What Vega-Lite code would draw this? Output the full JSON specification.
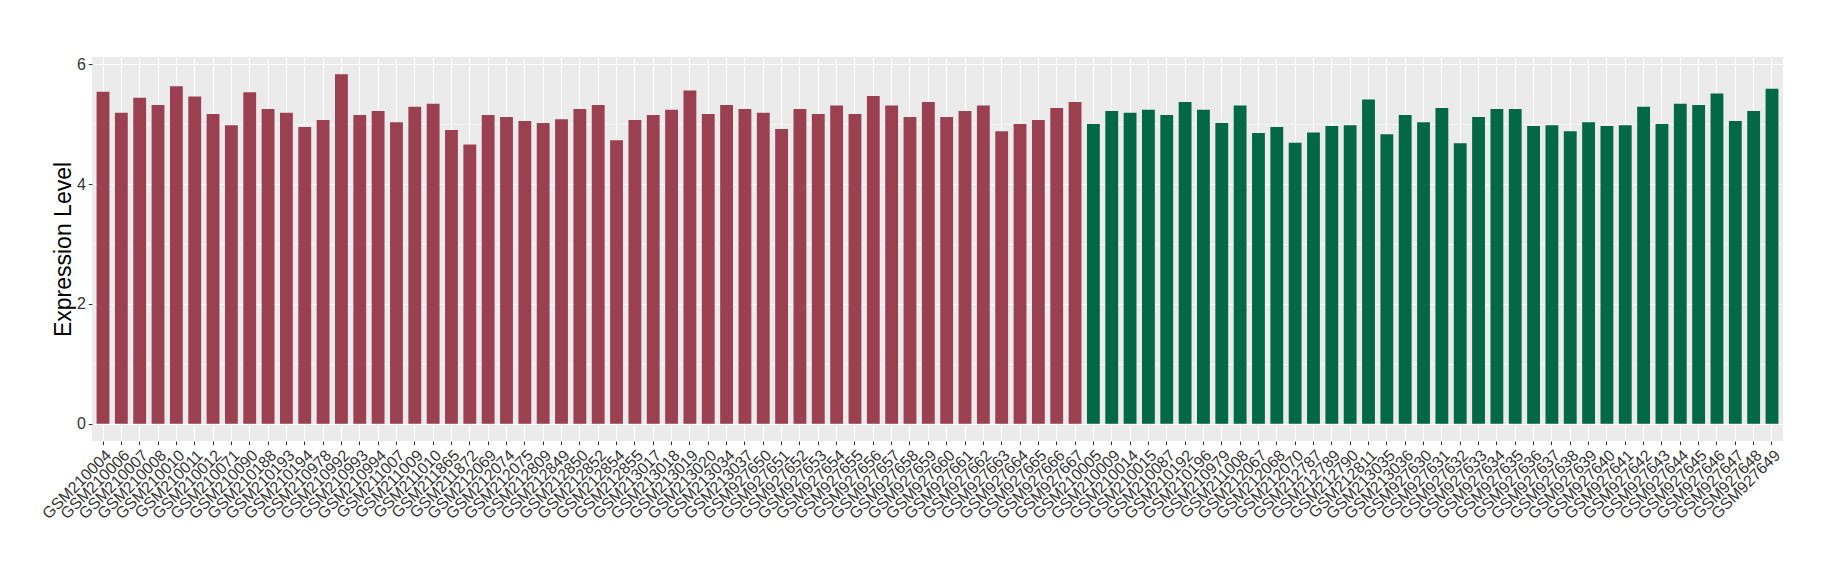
{
  "$schema": "https://vega.github.io/schema/vega-lite/v6.json",
  "autosize": "none",
  "width": 1691,
  "height": 384,
  "padding": {"left": 92, "top": 57, "right": 57, "bottom": 139},
  "background": "white",
  "config": {
    "view": {"fill": "#EBEBEB", "stroke": null},
    "font": "Liberation Sans"
  },
  "data": {
    "values": [
      {"sample": "GSM210004", "value": 5.54, "group": "Group 1"},
      {"sample": "GSM210006", "value": 5.19, "group": "Group 1"},
      {"sample": "GSM210007", "value": 5.44, "group": "Group 1"},
      {"sample": "GSM210008", "value": 5.32, "group": "Group 1"},
      {"sample": "GSM210010", "value": 5.63, "group": "Group 1"},
      {"sample": "GSM210011", "value": 5.46, "group": "Group 1"},
      {"sample": "GSM210012", "value": 5.17, "group": "Group 1"},
      {"sample": "GSM210071", "value": 4.98, "group": "Group 1"},
      {"sample": "GSM210090", "value": 5.53, "group": "Group 1"},
      {"sample": "GSM210188", "value": 5.25, "group": "Group 1"},
      {"sample": "GSM210193", "value": 5.19, "group": "Group 1"},
      {"sample": "GSM210194", "value": 4.95, "group": "Group 1"},
      {"sample": "GSM210978", "value": 5.07, "group": "Group 1"},
      {"sample": "GSM210992", "value": 5.83, "group": "Group 1"},
      {"sample": "GSM210993", "value": 5.15, "group": "Group 1"},
      {"sample": "GSM210994", "value": 5.22, "group": "Group 1"},
      {"sample": "GSM211007", "value": 5.03, "group": "Group 1"},
      {"sample": "GSM211009", "value": 5.29, "group": "Group 1"},
      {"sample": "GSM211010", "value": 5.34, "group": "Group 1"},
      {"sample": "GSM211865", "value": 4.90, "group": "Group 1"},
      {"sample": "GSM211872", "value": 4.66, "group": "Group 1"},
      {"sample": "GSM212069", "value": 5.15, "group": "Group 1"},
      {"sample": "GSM212074", "value": 5.12, "group": "Group 1"},
      {"sample": "GSM212075", "value": 5.05, "group": "Group 1"},
      {"sample": "GSM212809", "value": 5.02, "group": "Group 1"},
      {"sample": "GSM212849", "value": 5.08, "group": "Group 1"},
      {"sample": "GSM212850", "value": 5.25, "group": "Group 1"},
      {"sample": "GSM212852", "value": 5.32, "group": "Group 1"},
      {"sample": "GSM212854", "value": 4.73, "group": "Group 1"},
      {"sample": "GSM212855", "value": 5.07, "group": "Group 1"},
      {"sample": "GSM213017", "value": 5.15, "group": "Group 1"},
      {"sample": "GSM213018", "value": 5.24, "group": "Group 1"},
      {"sample": "GSM213019", "value": 5.56, "group": "Group 1"},
      {"sample": "GSM213020", "value": 5.17, "group": "Group 1"},
      {"sample": "GSM213034", "value": 5.32, "group": "Group 1"},
      {"sample": "GSM213037", "value": 5.25, "group": "Group 1"},
      {"sample": "GSM927650", "value": 5.19, "group": "Group 1"},
      {"sample": "GSM927651", "value": 4.92, "group": "Group 1"},
      {"sample": "GSM927652", "value": 5.25, "group": "Group 1"},
      {"sample": "GSM927653", "value": 5.17, "group": "Group 1"},
      {"sample": "GSM927654", "value": 5.31, "group": "Group 1"},
      {"sample": "GSM927655", "value": 5.17, "group": "Group 1"},
      {"sample": "GSM927656", "value": 5.47, "group": "Group 1"},
      {"sample": "GSM927657", "value": 5.31, "group": "Group 1"},
      {"sample": "GSM927658", "value": 5.12, "group": "Group 1"},
      {"sample": "GSM927659", "value": 5.37, "group": "Group 1"},
      {"sample": "GSM927660", "value": 5.12, "group": "Group 1"},
      {"sample": "GSM927661", "value": 5.22, "group": "Group 1"},
      {"sample": "GSM927662", "value": 5.31, "group": "Group 1"},
      {"sample": "GSM927663", "value": 4.88, "group": "Group 1"},
      {"sample": "GSM927664", "value": 5.00, "group": "Group 1"},
      {"sample": "GSM927665", "value": 5.07, "group": "Group 1"},
      {"sample": "GSM927666", "value": 5.27, "group": "Group 1"},
      {"sample": "GSM927667", "value": 5.37, "group": "Group 1"},
      {"sample": "GSM210005", "value": 5.00, "group": "Group 2"},
      {"sample": "GSM210009", "value": 5.22, "group": "Group 2"},
      {"sample": "GSM210014", "value": 5.19, "group": "Group 2"},
      {"sample": "GSM210015", "value": 5.24, "group": "Group 2"},
      {"sample": "GSM210087", "value": 5.15, "group": "Group 2"},
      {"sample": "GSM210192", "value": 5.37, "group": "Group 2"},
      {"sample": "GSM210196", "value": 5.24, "group": "Group 2"},
      {"sample": "GSM210979", "value": 5.02, "group": "Group 2"},
      {"sample": "GSM211008", "value": 5.31, "group": "Group 2"},
      {"sample": "GSM212067", "value": 4.85, "group": "Group 2"},
      {"sample": "GSM212068", "value": 4.95, "group": "Group 2"},
      {"sample": "GSM212070", "value": 4.69, "group": "Group 2"},
      {"sample": "GSM212787", "value": 4.86, "group": "Group 2"},
      {"sample": "GSM212789", "value": 4.97, "group": "Group 2"},
      {"sample": "GSM212790", "value": 4.98, "group": "Group 2"},
      {"sample": "GSM212811", "value": 5.41, "group": "Group 2"},
      {"sample": "GSM213035", "value": 4.83, "group": "Group 2"},
      {"sample": "GSM213036", "value": 5.15, "group": "Group 2"},
      {"sample": "GSM927630", "value": 5.03, "group": "Group 2"},
      {"sample": "GSM927631", "value": 5.27, "group": "Group 2"},
      {"sample": "GSM927632", "value": 4.68, "group": "Group 2"},
      {"sample": "GSM927633", "value": 5.12, "group": "Group 2"},
      {"sample": "GSM927634", "value": 5.25, "group": "Group 2"},
      {"sample": "GSM927635", "value": 5.25, "group": "Group 2"},
      {"sample": "GSM927636", "value": 4.97, "group": "Group 2"},
      {"sample": "GSM927637", "value": 4.98, "group": "Group 2"},
      {"sample": "GSM927638", "value": 4.88, "group": "Group 2"},
      {"sample": "GSM927639", "value": 5.03, "group": "Group 2"},
      {"sample": "GSM927640", "value": 4.97, "group": "Group 2"},
      {"sample": "GSM927641", "value": 4.98, "group": "Group 2"},
      {"sample": "GSM927642", "value": 5.29, "group": "Group 2"},
      {"sample": "GSM927643", "value": 5.00, "group": "Group 2"},
      {"sample": "GSM927644", "value": 5.34, "group": "Group 2"},
      {"sample": "GSM927645", "value": 5.32, "group": "Group 2"},
      {"sample": "GSM927646", "value": 5.51, "group": "Group 2"},
      {"sample": "GSM927647", "value": 5.05, "group": "Group 2"},
      {"sample": "GSM927648", "value": 5.22, "group": "Group 2"},
      {"sample": "GSM927649", "value": 5.59, "group": "Group 2"}
    ]
  },
  "mark": {"type": "bar"},
  "encoding": {
    "x": {
      "field": "sample",
      "type": "nominal",
      "sort": null,
      "scale": {"paddingInner": 0.3, "paddingOuter": 0.25},
      "axis": {
        "title": null,
        "labelAngle": -45,
        "labelAlign": "right",
        "labelBaseline": "top",
        "labelFontSize": 16,
        "labelColor": "#333333",
        "labelPadding": 2,
        "labelOverlap": false,
        "labelBound": false,
        "bandPosition": 0.5,
        "grid": true,
        "gridColor": "white",
        "gridWidth": 1.1,
        "domain": false,
        "tickColor": "#333333",
        "tickSize": 3.7,
        "tickWidth": 1
      }
    },
    "y": {
      "field": "value",
      "type": "quantitative",
      "scale": {"domain": [-0.29, 6.12], "nice": false, "zero": false},
      "axis": {
        "title": "Expression Level",
        "titleFontSize": 23,
        "titleFontWeight": "normal",
        "titleColor": "black",
        "titlePadding": 1,
        "values": [0, 1, 2, 3, 4, 5, 6],
        "labelExpr": "datum.value % 2 === 0 ? datum.label : ''",
        "labelFontSize": 16,
        "labelColor": "#333333",
        "labelPadding": 3,
        "grid": true,
        "gridColor": "white",
        "gridWidth": {"condition": {"test": "datum.value % 2 === 1", "value": 0.55}, "value": 1.1},
        "domain": false,
        "tickColor": "#333333",
        "tickOpacity": {"condition": {"test": "datum.value % 2 === 1", "value": 0}, "value": 1},
        "tickSize": 3.7,
        "tickWidth": 1
      }
    },
    "y2": {"datum": 0},
    "color": {
      "field": "group",
      "type": "nominal",
      "scale": {"domain": ["Group 1", "Group 2"], "range": ["#9A4050", "#026845"]},
      "legend": null
    }
  }
}
